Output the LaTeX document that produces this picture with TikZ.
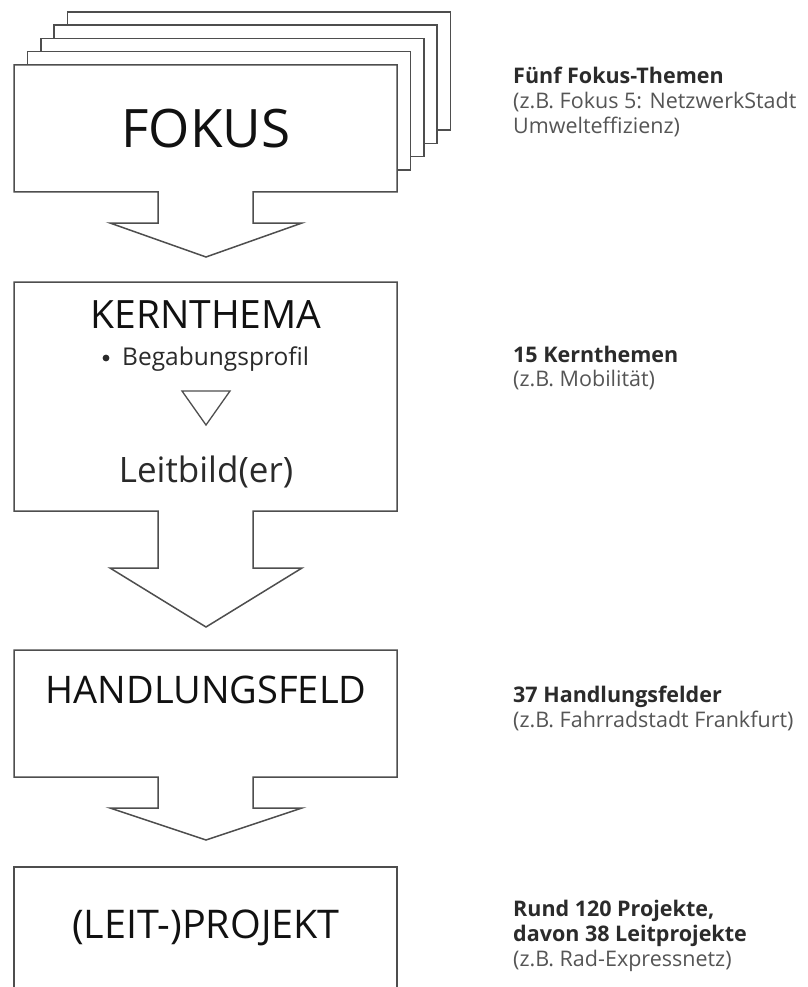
\documentclass[tikz,border=0pt]{standalone}
\usepackage{fontspec}
\setmainfont{Open Sans}
\IfFontExistsTF{Open Sans SemiBold}
  {\newfontfamily\semibold{Open Sans SemiBold}}
  {\newcommand{\semibold}{\bfseries}}
\definecolor{edge}{HTML}{4E4E4E}
\definecolor{headtxt}{HTML}{111111}
\definecolor{subtxt}{HTML}{2A2A2A}
\definecolor{notebold}{HTML}{2B2B2B}
\definecolor{notereg}{HTML}{555555}
\begin{document}
\begin{tikzpicture}[x=1pt,y=-1pt,
  outline/.style={draw=edge,line width=1.5pt,fill=white,line join=miter},
  headline/.style={inner sep=0pt,anchor=base,text=headtxt,font=\fontsize{39}{41}\selectfont},
  noteb/.style={inner sep=0pt,anchor=base west,text=notebold,font=\fontsize{21.5}{24}\selectfont\semibold},
  noter/.style={inner sep=0pt,anchor=base west,text=notereg,font=\fontsize{21.5}{24}\selectfont}]
\useasboundingbox (0,0) rectangle (807,987);
\fill[white] (0,0) rectangle (807,987);

% stacked sheets behind the FOKUS block
\foreach \k in {4,3,2,1}{
  \draw[outline] ({14+13.4*\k},{65-13.3*\k}) rectangle ({397+13.4*\k},{183.3-13.3*\k});
}

% block arrows: box with stem and head
\newcommand{\blockarrow}[4]{% top, bottom, wing y, tip y
  \draw[outline] (14,#1) -- (397,#1) -- (397,#2) -- (253,#2) -- (253,#3) -- (302,#3)
    -- (206,#4) -- (110,#3) -- (158,#3) -- (158,#2) -- (14,#2) -- cycle;}
\blockarrow{65}{192}{223}{257}
\blockarrow{282}{511}{568}{627}
\blockarrow{650}{777}{808}{840}
% last box runs past the lower edge
\draw[outline] (14,1000) -- (14,867) -- (397,867) -- (397,1000);

% small triangle inside the KERNTHEMA block
\draw[edge,line width=1.3pt,line join=miter] (182,391) -- (230,391) -- (206,425) -- cycle;

% block texts
\node[headline,font=\fontsize{53}{56}\selectfont] (fokus) at (206,148) {FOKUS};
\node[headline] (kern) at (206,328) {KERNTHEMA};
\fill[subtxt] (106,358) circle (3.4);
\node[inner sep=0pt,anchor=base west,text=subtxt,font=\fontsize{24.5}{26}\selectfont] (begab) at (122,365) {Begabungsprofil};
\node[inner sep=0pt,anchor=base,text=subtxt,font=\fontsize{35}{38}\selectfont] (leit) at (206,482) {Leitbild(er)};
\node[headline,font=\fontsize{38}{40}\selectfont] (hand) at (206,703) {HANDLUNGSFELD};
\node[headline,font=\fontsize{39.5}{42}\selectfont] (proj) at (206,938) {(LEIT-)PROJEKT};

% notes on the right
\node[noteb] (n1a) at (513,84) {Fünf Fokus-Themen};
\node[noter] (n1b) at (513,109) {(z.B. Fokus 5: NetzwerkStadt};
\node[noter] (n1c) at (513,134) {Umwelteffizienz)};

\node[noteb] (n2a) at (513,362) {15 Kernthemen};
\node[noter] (n2b) at (513,386) {(z.B. Mobilität)};

\node[noteb] (n3a) at (513,702) {37 Handlungsfelder};
\node[noter] (n3b) at (513,727) {(z.B. Fahrradstadt Frankfurt)};

\node[noteb] (n4a) at (513,916) {Rund 120 Projekte,};
\node[noteb] (n4b) at (513,941) {davon 38 Leitprojekte};
\node[noter] (n4c) at (513,966) {(z.B. Rad-Expressnetz)};
\end{tikzpicture}
\end{document}
